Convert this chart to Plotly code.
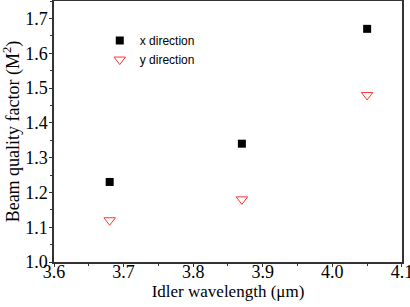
import plotly.graph_objects as go

wavelength = [3.68, 3.87, 4.05]
m2_x = [1.23, 1.34, 1.67]
m2_y = [1.12, 1.18, 1.48]
x_ticks = [3.6, 3.7, 3.8, 3.9, 4.0, 4.1]
y_ticks = [1.0, 1.1, 1.2, 1.3, 1.4, 1.5, 1.6, 1.7]

fig = go.Figure()
fig.add_trace(go.Scatter(x=wavelength, y=m2_x, mode="markers", name="x direction",
                         marker=dict(symbol="square", size=8, color="black")))
fig.add_trace(go.Scatter(x=wavelength, y=m2_y, mode="markers", name="y direction",
                         marker=dict(symbol="triangle-down-open", size=10, color="#ff3333",
                                     line=dict(width=1))))

serif = "Liberation Serif, Times New Roman, serif"
axis_font = dict(family=serif, size=18, color="black")
fig.update_layout(
    width=410, height=307,
    margin=dict(l=54, r=8, t=1, b=45),
    plot_bgcolor="white", paper_bgcolor="white",
    legend=dict(x=0.1315, y=0.904, xanchor="left", yanchor="top",
                font=dict(family="Liberation Sans, Arial, sans-serif", size=12, color="black"),
                bgcolor="rgba(0,0,0,0)", itemwidth=30, tracegroupgap=0),
    showlegend=True,
)
fig.update_xaxes(range=[3.6, 4.1001], tickvals=x_ticks, ticktext=[f"{v:.1f}" for v in x_ticks],
                 showgrid=False, zeroline=False, automargin=False,
                 showline=True, linecolor="#333", linewidth=1.5, mirror=True,
                 ticks="outside", ticklen=3, tickcolor="#333",
                 ticklabeloverflow="allow", ticklabelstandoff=-10,
                 minor=dict(ticks="outside", ticklen=2, dtick=0.05, tickcolor="#333", showgrid=False),
                 tickfont=axis_font,
                 title=dict(text="Idler wavelength (μm)", font=dict(family=serif, size=17, color="black"), standoff=2))
fig.update_yaxes(range=[1.0, 1.75], tickvals=y_ticks, ticktext=[f"{v:.1f}" for v in y_ticks],
                 showgrid=False, zeroline=False, automargin=False,
                 showline=True, linecolor="#333", linewidth=1.5, mirror=True,
                 ticks="outside", ticklen=3, tickcolor="#333",
                 ticklabelstandoff=-2,
                 minor=dict(ticks="outside", ticklen=2, dtick=0.05, tickcolor="#333", showgrid=False),
                 tickfont=axis_font,
                 title=dict(text="Beam quality factor (M<sup>2</sup>)", font=dict(family=serif, size=18, color="black"), standoff=2))

fig.write_html("out.html", config={"displayModeBar": False},
               post_script="document.body.style.margin='0';document.body.style.overflow='hidden';")
